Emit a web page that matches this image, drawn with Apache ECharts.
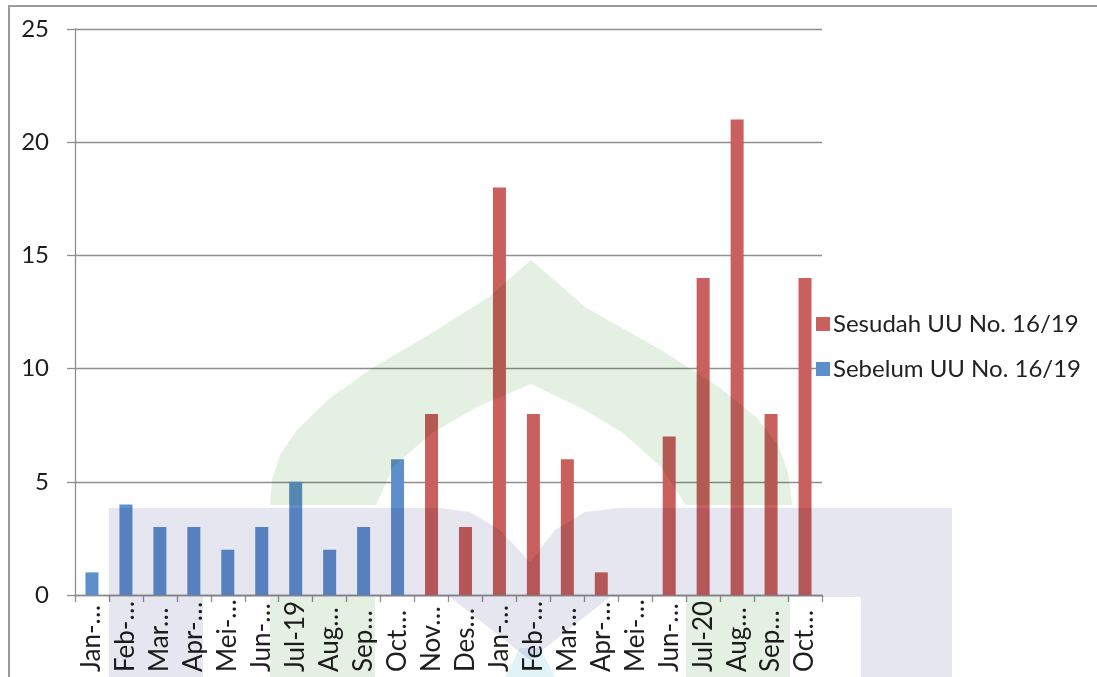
<!DOCTYPE html>
<html>
<head>
<meta charset="utf-8">
<script src="https://cdn.jsdelivr.net/npm/echarts@6/dist/echarts.min.js"></script>
<style>
	html, body { margin: 0; padding: 0; background: #fff; }
	#main { width: 1097px; height: 677px; }
</style>
</head>
<body>
<div id="main"></div>
<script>
// kategori bulan
var months = [ 'Jan-19', 'Feb-19', 'Mar-19', 'Apr-19', 'Mei-19', 'Jun-19',
		'Jul-19', 'Aug-19', 'Sep-19', 'Oct-19', 'Nov-19', 'Des-19', 'Jan-20',
		'Feb-20', 'Mar-20', 'Apr-20', 'Mei-20', 'Jun-20', 'Jul-20', 'Aug-20',
		'Sep-20', 'Oct-20' ];
var sebelumName = 'Sebelum UU No. 16/19';
var sesudahName = 'Sesudah UU No. 16/19';
var sebelum = [ 1, 4, 3, 3, 2, 3, 5, 2, 3, 6, null, null, null, null, null,
		null, null, null, null, null, null, null ];
var sesudah = [ null, null, null, null, null, null, null, null, null, null,
		8, 3, 18, 8, 6, 1, 0, 7, 14, 21, 8, 14 ];
var yTicks = [ 0, 5, 10, 15, 20, 25 ];

var font = 'Lato, "Liberation Sans", sans-serif';
var gridColor = '#8e8e8e';

// watermark (logo samar di belakang grafik)
var green = '#e4f0e1';
var purple = '#e6e6f0';
var domeOuter = [ [ 270, 505 ], [ 272, 480 ], [ 280, 455 ], [ 297, 430 ],
		[ 330, 398 ], [ 374, 367 ], [ 432, 333 ], [ 489, 297 ], [ 516, 273 ],
		[ 531, 260 ], [ 546, 273 ], [ 585, 307 ], [ 661, 350 ], [ 719, 387 ],
		[ 757, 418 ], [ 778, 445 ], [ 788, 472 ], [ 792, 505 ] ];
var domeInner = [ [ 686, 505 ], [ 661, 467 ], [ 623, 433 ], [ 585, 410 ],
		[ 531, 384 ], [ 477, 407 ], [ 432, 433 ], [ 393, 467 ], [ 376, 505 ] ];
var bandTop = [ [ 109, 508 ], [ 440, 508 ], [ 470, 512 ], [ 500, 530 ],
		[ 530, 562 ], [ 555, 530 ], [ 585, 512 ], [ 620, 508 ], [ 952, 508 ],
		[ 952, 677 ], [ 861, 677 ], [ 861, 597 ], [ 610, 597 ], [ 530, 660 ],
		[ 450, 597 ], [ 203, 597 ], [ 203, 677 ], [ 109, 677 ] ];

function wm(points, color) {
	return {
		type : 'polygon',
		z : 100,
		silent : true,
		shape : {
			points : points
		},
		style : {
			fill : color,
			blend : 'multiply'
		}
	};
}
function wmRect(x, y, w, h, color) {
	return {
		type : 'rect',
		z : 100,
		silent : true,
		shape : {
			x : x,
			y : y,
			width : w,
			height : h
		},
		style : {
			fill : color,
			blend : 'multiply'
		}
	};
}

var myChart = echarts.init(document.getElementById('main'));
var option = {
	animation : false,
	backgroundColor : '#fff',
	textStyle : {
		fontFamily : font
	},
	grid : {
		left : 75,
		right : 275,
		top : 29,
		bottom : 82,
		containLabel : false
	},
	legend : {
		orient : 'vertical',
		left : 811,
		top : 307,
		itemWidth : 14,
		itemHeight : 14,
		itemGap : 21,
		icon : 'rect',
		data : [ sesudahName, sebelumName ],
		textStyle : {
			fontFamily : font,
			fontSize : 24,
			color : '#222',
			padding : [ 0, 0, 0, -2 ]
		}
	},
	xAxis : {
		type : 'category',
		data : months,
		boundaryGap : true,
		axisLine : {
			lineStyle : {
				color : gridColor,
				width : 1.3
			}
		},
		axisTick : {
			show : true,
			length : 7,
			lineStyle : {
				color : gridColor,
				width : 1.3
			}
		},
		axisLabel : {
			rotate : 90,
			align : 'left',
			margin : 77,
			interval : 0,
			fontFamily : font,
			fontSize : 26,
			color : '#1e1e1e',
			width : 74,
			overflow : 'truncate',
			ellipsis : '…'
		}
	},
	yAxis : {
		type : 'value',
		min : 0,
		max : 25,
		interval : 5,
		axisLine : {
			show : true,
			lineStyle : {
				color : gridColor,
				width : 1.3
			}
		},
		axisTick : {
			show : true,
			length : 8,
			lineStyle : {
				color : gridColor,
				width : 1.3
			}
		},
		splitLine : {
			lineStyle : {
				color : gridColor,
				width : 1.3
			}
		},
		axisLabel : {
			margin : 26,
			fontFamily : font,
			fontSize : 24,
			color : '#1e1e1e',
			formatter : function(v) {
				return yTicks.indexOf(v) >= 0 ? String(v) : '';
			}
		}
	},
	series : [ {
		name : sebelumName,
		type : 'bar',
		data : sebelum,
		barWidth : 13,
		barGap : '-100%',
		itemStyle : {
			color : '#5f8fca'
		}
	}, {
		name : sesudahName,
		type : 'bar',
		data : sesudah,
		barWidth : 13,
		barGap : '-100%',
		itemStyle : {
			color : '#c9605e'
		}
	} ],
	graphic : [ {
		type : 'rect',
		z : 101,
		silent : true,
		shape : {
			x : 9,
			y : 6,
			width : 1100,
			height : 700
		},
		style : {
			fill : null,
			stroke : '#9a9a9a',
			lineWidth : 2
		}
	}, wm(domeOuter.concat(domeInner), green),
			wmRect(270, 597, 105, 80, green), wmRect(686, 597, 104, 80, green),
			wm(bandTop, purple),
			wm([ [ 505, 677 ], [ 520, 648 ], [ 540, 648 ], [ 555, 677 ] ], '#e2f3f7') ]
};
myChart.setOption(option);
</script>
</body>
</html>
